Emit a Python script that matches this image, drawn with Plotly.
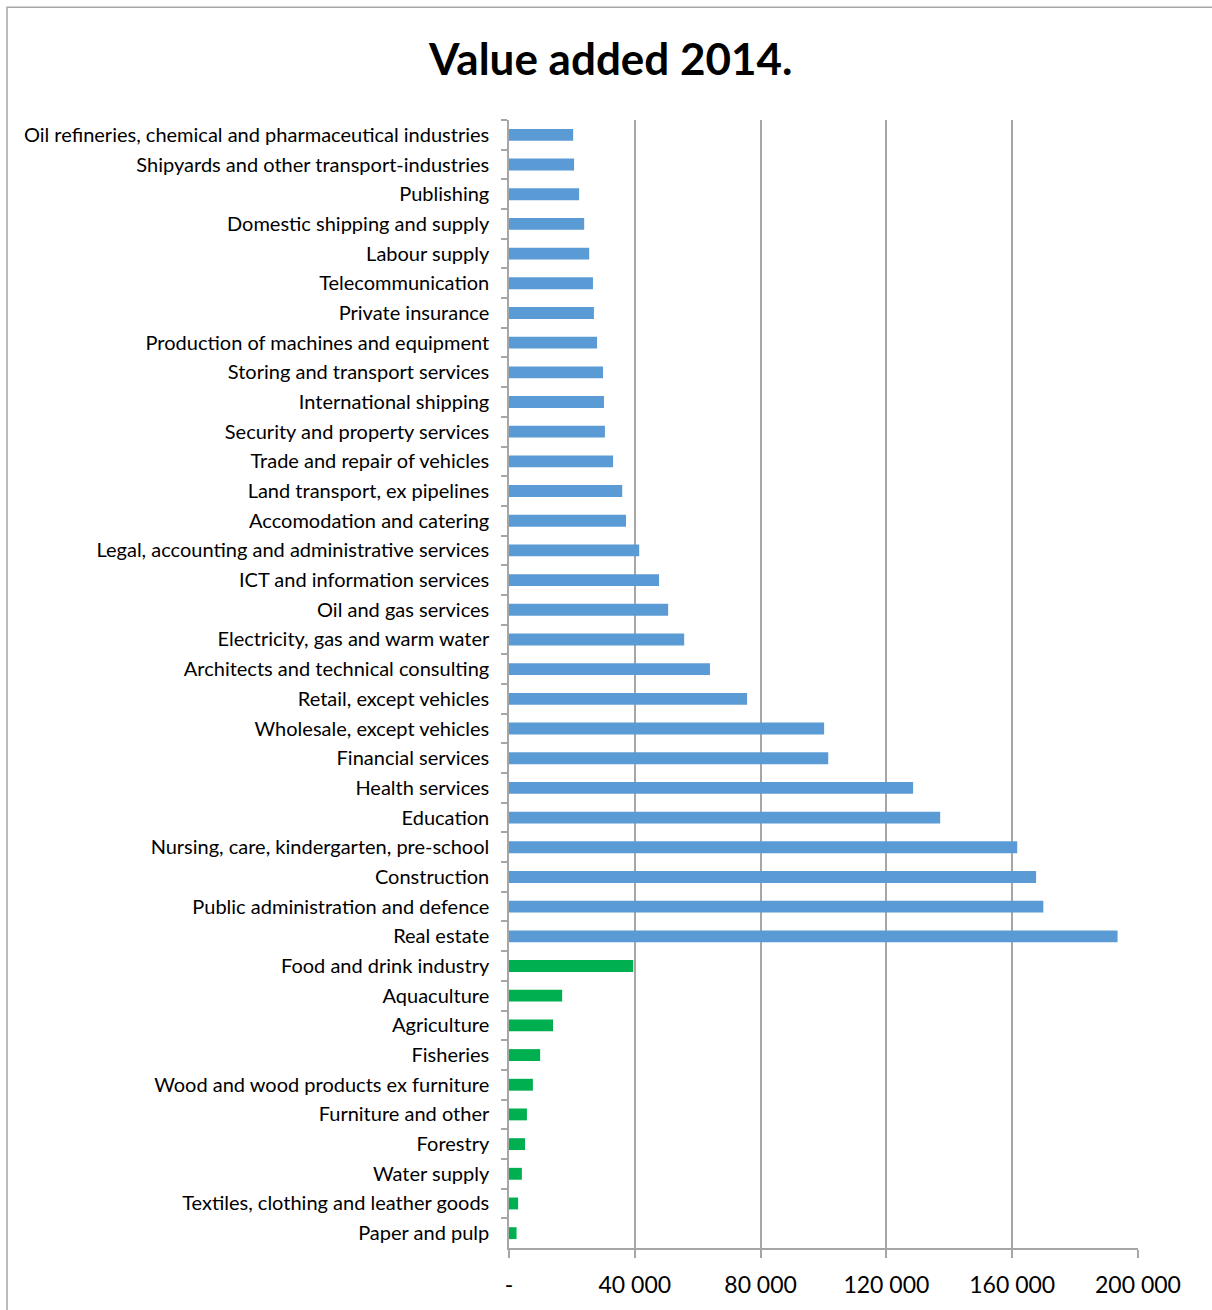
import plotly.graph_objects as go

# Industries, top to bottom as listed on the chart
service_industries = [
    "Oil refineries, chemical and pharmaceutical industries",
    "Shipyards and other transport-industries",
    "Publishing",
    "Domestic shipping and supply",
    "Labour supply",
    "Telecommunication",
    "Private insurance",
    "Production of machines and equipment",
    "Storing and transport services",
    "International shipping",
    "Security and property services",
    "Trade and repair of vehicles",
    "Land transport, ex pipelines",
    "Accomodation and catering",
    "Legal, accounting and administrative services",
    "ICT and information services",
    "Oil and gas services",
    "Electricity, gas and warm water",
    "Architects and technical consulting",
    "Retail, except vehicles",
    "Wholesale, except vehicles",
    "Financial services",
    "Health services",
    "Education",
    "Nursing, care, kindergarten, pre-school",
    "Construction",
    "Public administration and defence",
    "Real estate",
]
service_values = [
    20400, 20700, 22300, 23900, 25500, 26700, 27000, 28000, 29900, 30200,
    30500, 33100, 36000, 37200, 41400, 47700, 50600, 55700, 63900, 75700,
    100200, 101500, 128500, 137100, 161600, 167600, 169900, 193500,
]

primary_industries = [
    "Food and drink industry",
    "Aquaculture",
    "Agriculture",
    "Fisheries",
    "Wood and wood products ex furniture",
    "Furniture and other",
    "Forestry",
    "Water supply",
    "Textiles, clothing and leather goods",
    "Paper and pulp",
]
primary_values = [39500, 16900, 14000, 9900, 7600, 5700, 5100, 4100, 2900, 2400]

x_tick_values = [0, 40000, 80000, 120000, 160000, 200000]
x_tick_labels = ["-", "40 000", "80 000", "120 000", "160 000", "200 000"]

categories = service_industries + primary_industries
values = service_values + primary_values
colors = ["#5B9BD5"] * len(service_values) + ["#00B050"] * len(primary_values)

FONT = "Lato, 'Open Sans', sans-serif"
GRID = "#A6A6A6"

fig = go.Figure(
    go.Bar(
        x=values,
        y=categories,
        orientation="h",
        marker=dict(color=colors, line=dict(width=0)),
        width=0.4,
        showlegend=False,
    )
)

fig.update_layout(
    width=1212,
    height=1310,
    margin=dict(l=509, r=74, t=120, b=60),
    paper_bgcolor="white",
    plot_bgcolor="white",
    title=dict(
        text="<b>Value added 2014.</b>",
        x=0.504,
        xanchor="center",
        y=1 - 60 / 1310,
        yanchor="middle",
        font=dict(family=FONT, size=44, color="black"),
    ),
    font=dict(family=FONT, color="black"),
    xaxis=dict(
        range=[0, 200000],
        tickvals=x_tick_values,
        ticktext=x_tick_labels,
        showgrid=True,
        gridcolor=GRID,
        gridwidth=1.5,
        zeroline=False,
        showline=True,
        linecolor=GRID,
        linewidth=1.5,
        ticks="outside",
        ticklen=8,
        tickcolor=GRID,
        tickwidth=1.5,
        ticklabelstandoff=8,
        tickfont=dict(size=23),
    ),
    yaxis=dict(
        type="category",
        categoryorder="array",
        categoryarray=categories,
        autorange="reversed",
        showline=True,
        linecolor=GRID,
        linewidth=1.5,
        ticks="outside",
        tickson="boundaries",
        ticklen=6,
        tickcolor=GRID,
        tickwidth=1.5,
        ticklabelstandoff=14,
        tickfont=dict(size=20),
        showgrid=False,
    ),
    shapes=[
        dict(
            type="rect",
            xref="paper",
            yref="paper",
            x0=-502 / 629,
            x1=80 / 629 + 1,
            y0=-80 / 1130,
            y1=1 + 113 / 1130,
            line=dict(color="#A6A6A6", width=1.5),
            fillcolor="rgba(0,0,0,0)",
            layer="below",
        )
    ],
)

fig.write_html("out.html")
